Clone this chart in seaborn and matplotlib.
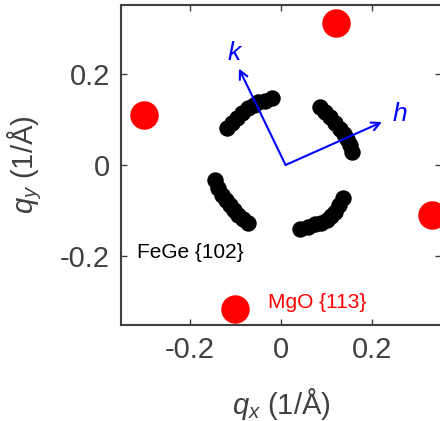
import matplotlib
matplotlib.use('Agg')
import matplotlib.pyplot as plt
import pandas as pd
import seaborn as sns

# MgO {113} reflections (1/A)
mgo_qx = [0.12, -0.30, 0.33, -0.10]
mgo_qy = [0.31, 0.11, -0.11, -0.315]

# FeGe {102} arcs (1/A), four arcs read along the ring
fege_arc1_qx = [-0.118, -0.108, -0.096, -0.085, -0.072, -0.060, -0.050, -0.035, -0.020]
fege_arc1_qy = [0.080, 0.092, 0.102, 0.113, 0.124, 0.132, 0.137, 0.141, 0.146]
fege_arc2_qx = [0.085, 0.096, 0.107, 0.118, 0.129, 0.137, 0.144, 0.150, 0.155]
fege_arc2_qy = [0.126, 0.116, 0.104, 0.092, 0.078, 0.068, 0.057, 0.043, 0.028]
fege_arc3_qx = [0.135, 0.127, 0.118, 0.110, 0.100, 0.087, 0.074, 0.058, 0.041]
fege_arc3_qy = [-0.072, -0.087, -0.102, -0.112, -0.120, -0.126, -0.130, -0.136, -0.141]
fege_arc4_qx = [-0.144, -0.137, -0.129, -0.120, -0.111, -0.103, -0.094, -0.083, -0.072]
fege_arc4_qy = [-0.033, -0.050, -0.065, -0.077, -0.087, -0.098, -0.109, -0.118, -0.126]

# in-plane h / k directions
vec_origin = (0.01, 0.0)
h_tip = (0.221, 0.094)
k_tip = (-0.092, 0.211)
h_label_pos = (0.260, 0.111)
k_label_pos = (-0.103, 0.245)

ticks = [-0.2, 0, 0.2]
tick_labels = ['-0.2', '0', '0.2']


def main():
    sns.set_style('ticks')
    plt.rcParams['font.family'] = ['Liberation Sans', 'DejaVu Sans']
    plt.rcParams['mathtext.fontset'] = 'custom'
    plt.rcParams['mathtext.it'] = 'Liberation Sans:italic'
    plt.rcParams['mathtext.rm'] = 'Liberation Sans'

    gray = '#404040'

    fege = pd.DataFrame({
        'qx': fege_arc1_qx + fege_arc2_qx + fege_arc3_qx + fege_arc4_qx,
        'qy': fege_arc1_qy + fege_arc2_qy + fege_arc3_qy + fege_arc4_qy,
    })
    mgo = pd.DataFrame({'qx': mgo_qx, 'qy': mgo_qy})

    fig = plt.figure(figsize=(4.4, 4.21), dpi=100)
    ax = fig.add_axes([121 / 440, 96 / 421, 320 / 440, 320 / 421])

    sns.scatterplot(data=fege, x='qx', y='qy', ax=ax, color='black',
                    s=140, linewidth=0, zorder=2)
    sns.scatterplot(data=mgo, x='qx', y='qy', ax=ax, color='#ff0000',
                    s=420, linewidth=0, zorder=2, clip_on=False)

    # h and k arrows
    for tip in (h_tip, k_tip):
        ax.annotate('', xy=tip, xytext=vec_origin,
                    arrowprops=dict(arrowstyle='->', color='#0000ff', lw=1.5,
                                    shrinkA=0, shrinkB=0, mutation_scale=15),
                    zorder=3)
    ax.text(*h_label_pos, 'h', color='#0000ff', fontsize=19, style='italic',
            ha='center', va='center')
    ax.text(*k_label_pos, 'k', color='#0000ff', fontsize=19, style='italic',
            ha='center', va='center')

    ax.text(-0.314, -0.192, 'FeGe {102}', color='black', fontsize=15,
            ha='left', va='center')
    ax.text(-0.029, -0.301, 'MgO {113}', color='#ff0000', fontsize=15,
            ha='left', va='center')

    ax.set_xlim(-0.35, 0.35)
    ax.set_ylim(-0.35, 0.35)
    ax.set_xticks(ticks)
    ax.set_xticklabels(tick_labels)
    ax.set_yticks(ticks)
    ax.set_yticklabels(tick_labels)
    ax.tick_params(direction='in', length=4, width=1, colors=gray,
                   labelsize=21, top=True, right=True, pad=8)

    for spine in ax.spines.values():
        spine.set_color(gray)
        spine.set_linewidth(1.5)

    ax.set_xlabel(r'$q_x$ (1/Å)', fontsize=21, color=gray)
    ax.set_ylabel(r'$q_y$ (1/Å)', fontsize=21, color=gray)
    ax.xaxis.set_label_coords(0.5, -0.19)
    ax.yaxis.set_label_coords(-0.24, 0.5)

    fig.savefig('out.png', dpi=100)
    plt.close(fig)


if __name__ == '__main__':
    main()
